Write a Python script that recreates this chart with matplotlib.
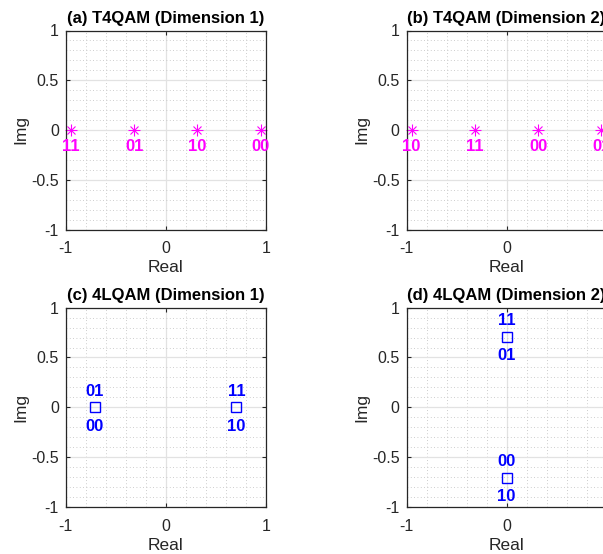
import matplotlib
matplotlib.use('Agg')
import matplotlib.pyplot as plt
from matplotlib.ticker import MultipleLocator, FixedLocator

plt.rcParams['font.family'] = ['Liberation Sans', 'DejaVu Sans']

# ---- data ----
titles = ['(a) T4QAM (Dimension 1)', '(b) T4QAM (Dimension 2)',
          '(c) 4LQAM (Dimension 1)', '(d) 4LQAM (Dimension 2)']

# T4QAM: 4 points on real axis
t4_re = [-0.9487, -0.3162, 0.3162, 0.9487]
t4_im = [0, 0, 0, 0]
t4_labels_d1 = ['11', '01', '10', '00']
t4_labels_d2 = ['10', '11', '00', '01']

# 4LQAM dim 1: two points, two labels each (above, below)
lq1_re = [-0.7071, 0.7071]
lq1_im = [0, 0]
lq1_above = ['01', '11']
lq1_below = ['00', '10']

# 4LQAM dim 2
lq2_re = [0, 0]
lq2_im = [0.7071, -0.7071]
lq2_above = ['11', '00']
lq2_below = ['01', '10']

MAG = (1, 0, 1)
BLUE = (0, 0, 1)
DARK = '#262626'

fig = plt.figure(figsize=(6.03, 5.54), dpi=100)
W = 200 / 603
H = 199 / 554
positions = [
    [65.7 / 603, 1 - 229.5 / 554, W, H],
    [406.5 / 603, 1 - 229.5 / 554, W, H],
    [65.7 / 603, 1 - 506.7 / 554, W, H],
    [406.5 / 603, 1 - 506.7 / 554, W, H],
]


def style_axes(ax, title):
    ax.set_xlim(-1, 1)
    ax.set_ylim(-1, 1)
    ax.xaxis.set_major_locator(FixedLocator([-1, 0, 1]))
    ax.yaxis.set_major_locator(FixedLocator([-1, -0.5, 0, 0.5, 1]))
    ax.xaxis.set_minor_locator(MultipleLocator(0.2))
    ax.yaxis.set_minor_locator(MultipleLocator(0.1))
    ax.set_xticklabels(['-1', '0', '1'])
    ax.set_yticklabels(['-1', '-0.5', '0', '0.5', '1'])
    ax.grid(True, which='major', color='#e2e2e2', linewidth=0.9)
    ax.grid(True, which='minor', color='#bdbdbd', linewidth=0.6,
            linestyle=(0, (1, 3)))
    ax.set_axisbelow(True)
    ax.tick_params(which='major', direction='in', length=3, width=0.8,
                   top=True, right=True, colors=DARK, labelsize=11.5)
    ax.tick_params(axis='x', which='major', pad=8.5)
    ax.tick_params(axis='y', which='major', pad=5)
    ax.tick_params(which='minor', length=0)
    for s in ax.spines.values():
        s.set_color(DARK)
        s.set_linewidth(0.9)
    ax.set_xlabel('Real', fontsize=12.5, color=DARK, labelpad=3)
    ax.set_ylabel('Img', fontsize=12.5, color=DARK, labelpad=2)
    ax.set_title(title, fontsize=12, fontweight='bold', color='black', pad=5.5)


def asterisk(ax, x, y, color):
    ax.plot(x, y, linestyle='none', marker='+', markersize=9,
            markeredgewidth=0.8, color=color, clip_on=False)
    ax.plot(x, y, linestyle='none', marker='x', markersize=6.4,
            markeredgewidth=0.8, color=color, clip_on=False)


axes = [fig.add_axes(p) for p in positions]
for ax, t in zip(axes, titles):
    style_axes(ax, t)

lbl_kw = dict(fontsize=12, fontweight='bold', ha='center', va='center')

# (a) and (b)
for ax, labs in [(axes[0], t4_labels_d1), (axes[1], t4_labels_d2)]:
    asterisk(ax, t4_re, t4_im, MAG)
    for x, y, s in zip(t4_re, t4_im, labs):
        ax.text(x, y - 0.17, s, color=MAG, **lbl_kw)

# (c) and (d)
for ax, re, im, ab, be in [(axes[2], lq1_re, lq1_im, lq1_above, lq1_below),
                           (axes[3], lq2_re, lq2_im, lq2_above, lq2_below)]:
    ax.plot(re, im, linestyle='none', marker='s', markersize=6.5,
            markerfacecolor='none', markeredgecolor=BLUE, markeredgewidth=1.0)
    for x, y, a, b in zip(re, im, ab, be):
        ax.text(x, y + 0.16, a, color=BLUE, **lbl_kw)
        ax.text(x, y - 0.19, b, color=BLUE, **lbl_kw)

fig.savefig('out.png', dpi=100)
